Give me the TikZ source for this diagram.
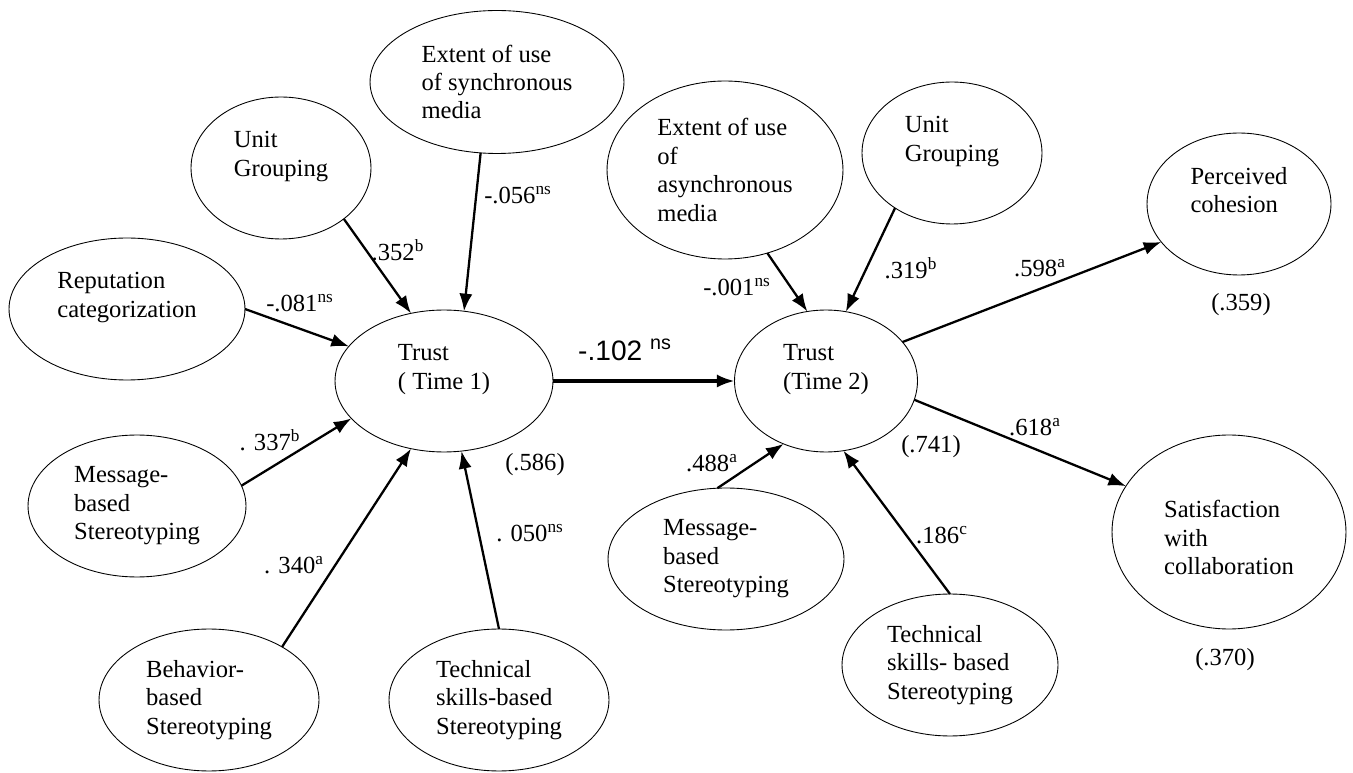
\documentclass[tikz,border=0pt]{standalone}
\usepackage{fontspec}
\setmainfont{Liberation Serif}
\newfontfamily\sansnum{Liberation Sans}
\usetikzlibrary{shapes.geometric,arrows.meta}
\begin{document}
\begin{tikzpicture}[x=0.02cm,y=-0.02cm,
    font=\fontsize{14}{16.2}\selectfont,
    var/.style={draw,ellipse,inner sep=0pt,outer sep=0pt,line width=0.5pt,align=left},
    link/.style={-{Latex[length=10pt,width=7.5pt]},line width=1.3pt},
    coef/.style={inner sep=0pt}]
    \useasboundingbox (0,0) rectangle (1353,773);
    %% time 1 side
    \node[var,minimum width=5.08cm,minimum height=2.86cm] (sync) at (497,82) {Extent of use\\of synchronous\\media};
    \node[var,minimum width=3.6cm,minimum height=2.84cm] (unitA) at (281,168) {Unit\\Grouping\\\mbox{}};
    \node[var,minimum width=4.72cm,minimum height=2.84cm] (rep) at (127,309) {Reputation\\categorization\\\mbox{}};
    \node[var,minimum width=4.36cm,minimum height=2.84cm] (trustA) at (444,381) {Trust\\( Time 1)\\\mbox{}};
    \node[var,minimum width=4.36cm,minimum height=2.84cm] (msgA) at (137,506) {Message-\\based\\Stereotyping};
    \node[var,minimum width=4.4cm,minimum height=2.84cm] (behav) at (209,700) {Behavior-\\based\\Stereotyping};
    \node[var,minimum width=4.4cm,minimum height=2.84cm] (techA) at (499,700) {Technical\\skills-based\\Stereotyping};
    %% time 2 side
    \node[var,minimum width=4.72cm,minimum height=3.56cm] (async) at (725,170) {Extent of use\\of\\asynchronous\\media};
    \node[var,minimum width=3.6cm,minimum height=2.84cm] (unitB) at (952,153) {Unit\\Grouping\\\mbox{}};
    \node[var,minimum width=3.68cm,minimum height=2.84cm] (cohes) at (1239,204) {Perceived\\cohesion\\\mbox{}};
    \node[var,minimum width=3.66cm,minimum height=2.84cm] (trustB) at (826,381) {Trust\\(Time 2)\\\mbox{}};
    \node[var,minimum width=4.72cm,minimum height=2.84cm] (msgB) at (726,559) {Message-\\based\\Stereotyping};
    \node[var,minimum width=4.32cm,minimum height=2.84cm] (techB) at (950,665) {Technical\\skills- based\\Stereotyping};
    \node[var,minimum width=4.68cm,minimum height=3.88cm] (satis) at (1229,532) {\mbox{}\\Satisfaction\\with\\collaboration};
    %% paths
    \draw[link] (unitA.-39) -- (trustA.116);
    \draw[link] (sync.-103) -- (trustA.74);
    \draw[link] (rep.0) -- (trustA.160);
    \draw[link] (msgA.11) -- (trustA.202);
    \draw[link] (behav.36) -- (trustA.244);
    \draw[link] (techA.90) -- (trustA.284);
    \draw[link,line width=1.8pt] (trustA.east) -- (trustB.west);
    \draw[link] (async.297) -- (trustB.105);
    \draw[link] (unitB.224) -- (trustB.74);
    \draw[link] (trustB.27) -- (cohes.206);
    \draw[link] (trustB.348) -- (satis.156);
    \draw[link] (msgB.97) -- (trustB.236);
    \draw[link] (techB.90) -- (trustB.284);
    %% coefficients
    \node[coef] (c352) at (398,250) {.352\textsuperscript{b}};
    \node[coef] (c056) at (518,195) {-.056\textsuperscript{ns}};
    \node[coef] (c081) at (300,303) {-.081\textsuperscript{ns}};
    \node[coef,font=\sansnum\fontsize{16}{18}\selectfont] (c102) at (625,350) {-.102 \textsuperscript{ns}};
    \node[coef] (c337) at (270,440) {. 337\textsuperscript{b}};
    \node[coef] (c340) at (294,565) {. 340\textsuperscript{a}};
    \node[coef] (c050) at (530,533) {. 050\textsuperscript{ns}};
    \node[coef] (r586) at (535,465) {(.586)};
    \node[coef] (c001) at (737,287) {-.001\textsuperscript{ns}};
    \node[coef] (c319) at (911,268) {.319\textsuperscript{b}};
    \node[coef] (c598) at (1040,268) {.598\textsuperscript{a}};
    \node[coef] (r359) at (1241,305) {(.359)};
    \node[coef] (c488) at (712,463) {.488\textsuperscript{a}};
    \node[coef] (r741) at (931,447) {(.741)};
    \node[coef] (c186) at (942,535) {.186\textsuperscript{c}};
    \node[coef] (c618) at (1035,427) {.618\textsuperscript{a}};
    \node[coef] (r370) at (1225,660) {(.370)};
\end{tikzpicture}
\end{document}
